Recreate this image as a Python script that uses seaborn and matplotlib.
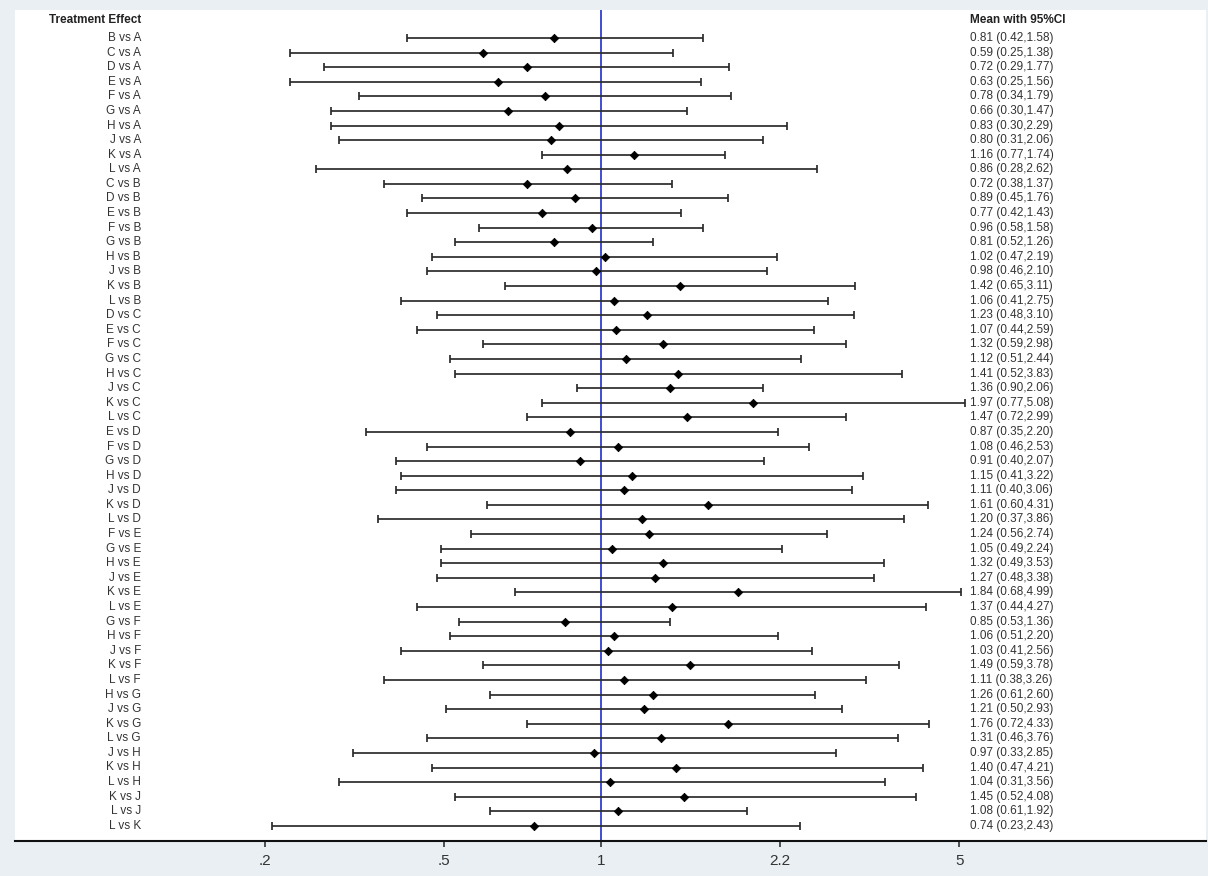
import numpy as np
import pandas as pd
import matplotlib
matplotlib.use("Agg")
import matplotlib.pyplot as plt
import seaborn as sns

# Pairwise comparisons: point estimate with 95% confidence limits
comparisons = [
    "B vs A", "C vs A", "D vs A", "E vs A", "F vs A", "G vs A", "H vs A", "J vs A", "K vs A", "L vs A",
    "C vs B", "D vs B", "E vs B", "F vs B", "G vs B", "H vs B", "J vs B", "K vs B", "L vs B",
    "D vs C", "E vs C", "F vs C", "G vs C", "H vs C", "J vs C", "K vs C", "L vs C",
    "E vs D", "F vs D", "G vs D", "H vs D", "J vs D", "K vs D", "L vs D",
    "F vs E", "G vs E", "H vs E", "J vs E", "K vs E", "L vs E",
    "G vs F", "H vs F", "J vs F", "K vs F", "L vs F",
    "H vs G", "J vs G", "K vs G", "L vs G",
    "J vs H", "K vs H", "L vs H",
    "K vs J", "L vs J",
    "L vs K",
]
mean = [
    0.81, 0.59, 0.72, 0.63, 0.78, 0.66, 0.83, 0.80, 1.16, 0.86,
    0.72, 0.89, 0.77, 0.96, 0.81, 1.02, 0.98, 1.42, 1.06,
    1.23, 1.07, 1.32, 1.12, 1.41, 1.36, 1.97, 1.47,
    0.87, 1.08, 0.91, 1.15, 1.11, 1.61, 1.20,
    1.24, 1.05, 1.32, 1.27, 1.84, 1.37,
    0.85, 1.06, 1.03, 1.49, 1.11,
    1.26, 1.21, 1.76, 1.31,
    0.97, 1.40, 1.04,
    1.45, 1.08,
    0.74,
]
lower = [
    0.42, 0.25, 0.29, 0.25, 0.34, 0.30, 0.30, 0.31, 0.77, 0.28,
    0.38, 0.45, 0.42, 0.58, 0.52, 0.47, 0.46, 0.65, 0.41,
    0.48, 0.44, 0.59, 0.51, 0.52, 0.90, 0.77, 0.72,
    0.35, 0.46, 0.40, 0.41, 0.40, 0.60, 0.37,
    0.56, 0.49, 0.49, 0.48, 0.68, 0.44,
    0.53, 0.51, 0.41, 0.59, 0.38,
    0.61, 0.50, 0.72, 0.46,
    0.33, 0.47, 0.31,
    0.52, 0.61,
    0.23,
]
upper = [
    1.58, 1.38, 1.77, 1.56, 1.79, 1.47, 2.29, 2.06, 1.74, 2.62,
    1.37, 1.76, 1.43, 1.58, 1.26, 2.19, 2.10, 3.11, 2.75,
    3.10, 2.59, 2.98, 2.44, 3.83, 2.06, 5.08, 2.99,
    2.20, 2.53, 2.07, 3.22, 3.06, 4.31, 3.86,
    2.74, 2.24, 3.53, 3.38, 4.99, 4.27,
    1.36, 2.20, 2.56, 3.78, 3.26,
    2.60, 2.93, 4.33, 3.76,
    2.85, 4.21, 3.56,
    4.08, 1.92,
    2.43,
]
# Axis ticks sit on the log scale at ln = -1.5, -0.7, 0, 0.8, 1.6
tick_logs = [-1.5, -0.7, 0.0, 0.8, 1.6]
tick_labels = [".2", ".5", "1", "2.2", "5"]

df = pd.DataFrame({"label": comparisons, "mean": mean, "lower": lower, "upper": upper})
df["row"] = np.arange(len(df))

sns.set_theme(style="white")
plt.rcParams["font.family"] = ["Liberation Sans", "DejaVu Sans"]

W, H = 1208, 876
fig = plt.figure(figsize=(W / 100, H / 100), dpi=100, facecolor="#e9eff3")

left_px, right_px, top_px, bottom_px = 15, 1206, 10, 841
ax = fig.add_axes([left_px / W, 1 - bottom_px / H,
                   (right_px - left_px) / W, (bottom_px - top_px) / H])
ax.set_facecolor("white")

# log scale: 224 px per natural-log unit, null value at x = 601 px
px_per_ln = 224.0
null_px = 601.0
ax.set_xscale("log")
ax.set_xlim(np.exp((left_px - null_px) / px_per_ln), np.exp((right_px - null_px) / px_per_ln))

row0_px, row_step = 38.0, 14.59
ax.set_ylim((bottom_px - row0_px) / row_step, (top_px - row0_px) / row_step)

# reference line at no effect
ax.axvline(1.0, color="#1f2fc8", lw=1.2, zorder=1)

# confidence intervals
ax.errorbar(df["mean"], df["row"],
            xerr=[df["mean"] - df["lower"], df["upper"] - df["mean"]],
            fmt="none", ecolor="#2b2b2b", elinewidth=1.25, capsize=2.6, capthick=1.25, zorder=2)

# point estimates
sns.scatterplot(data=df, x="mean", y="row", marker="D", color="black", s=18,
                edgecolor="black", linewidth=0.6, zorder=3, ax=ax, legend=False)

# text columns
ytr = ax.get_yaxis_transform()
lab_x = (141 - left_px) / (right_px - left_px)
val_x = (970 - left_px) / (right_px - left_px)
header_row = (20 - row0_px) / row_step
ax.text(lab_x, header_row, "Treatment Effect", transform=ytr, ha="right", va="center",
        fontsize=8.5, fontweight="bold", color="#222222")
ax.text(val_x, header_row, "Mean with 95%CI", transform=ytr, ha="left", va="center",
        fontsize=8.5, fontweight="bold", color="#222222")
for _, r in df.iterrows():
    ax.text(lab_x, r["row"], r["label"], transform=ytr, ha="right", va="center",
            fontsize=8.5, color="#333333")
    ax.text(val_x, r["row"], f"{r['mean']:.2f} ({r['lower']:.2f},{r['upper']:.2f})",
            transform=ytr, ha="left", va="center", fontsize=8.5, color="#333333")

# axes styling
for side in ["top", "left", "right"]:
    ax.spines[side].set_visible(False)
ax.spines["bottom"].set_color("#111111")
ax.spines["bottom"].set_linewidth(1.5)
ax.set_yticks([])
ax.set_xticks(np.exp(tick_logs))
ax.set_xticklabels(tick_labels)
ax.xaxis.set_minor_locator(matplotlib.ticker.NullLocator())
ax.tick_params(axis="x", which="major", direction="out", length=4.5, width=1.2,
               color="#333333", labelsize=11, labelcolor="#333333", pad=5, bottom=True)
ax.set_xlabel("")
ax.set_ylabel("")

fig.savefig("out.png", dpi=100, facecolor=fig.get_facecolor())
